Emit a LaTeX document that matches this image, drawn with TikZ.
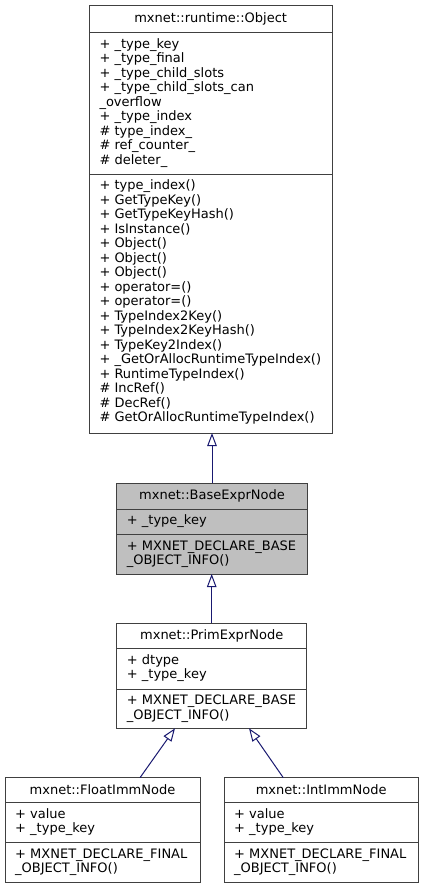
\documentclass[tikz,border=0pt]{standalone}
\usepackage{fontspec}
\setmainfont{DejaVu Sans}
\usetikzlibrary{arrows.meta,calc}
\definecolor{edgeblue}{RGB}{25,25,112}
\definecolor{bord}{HTML}{404040}
\definecolor{basefill}{HTML}{BFBFBF}
\begin{document}
\begin{tikzpicture}[x=1pt,y=-1pt,
  cls/.style={draw=bord, line width=1pt, inner sep=0pt, outer sep=0pt, anchor=north west, rectangle},
  sepline/.style={draw=bord, line width=1pt},
  ttl/.style={font=\fontsize{13}{14.5}\selectfont, inner sep=0pt, anchor=base},
  mem/.style={font=\fontsize{13}{14.5}\selectfont, inner sep=0pt, anchor=north west, align=left},
  inh/.style={draw=edgeblue, line width=1pt, -{Triangle[open, length=13pt, width=9.5pt]}}]
\useasboundingbox (0,0) rectangle (424,889);
\fill[white] (0,0) rectangle (424,889);

% mxnet::runtime::Object
\node[cls, minimum width=242.7pt, minimum height=427.7pt] (obj) at (89.3,5.3) {};
\draw[sepline] (89.3,32.3) -- (332,32.3);
\draw[sepline] (89.3,174) -- (332,174);
\node[ttl] (objt) at (210.7,22.3) {mxnet::runtime::Object};
\node[mem] (obja) at (99.3,37.65) {\strut + \_type\_key\\+ \_type\_final\\+ \_type\_child\_slots\\+ \_type\_child\_slots\_can\\\_overflow\\+ \_type\_index\\\# type\_index\_\\\# ref\_counter\_\\\# deleter\_};
\node[mem] (objm) at (99.3,179.35) {\strut + type\_index()\\+ GetTypeKey()\\+ GetTypeKeyHash()\\+ IsInstance()\\+ Object()\\+ Object()\\+ Object()\\+ operator=()\\+ operator=()\\+ TypeIndex2Key()\\+ TypeIndex2KeyHash()\\+ TypeKey2Index()\\+ \_GetOrAllocRuntimeTypeIndex()\\+ RuntimeTypeIndex()\\\# IncRef()\\\# DecRef()\\\# GetOrAllocRuntimeTypeIndex()};

% mxnet::BaseExprNode
\node[cls, fill=basefill, minimum width=190.6pt, minimum height=90.7pt] (base) at (116.7,483.3) {};
\draw[sepline] (116.7,509) -- (307.3,509);
\draw[sepline] (116.7,534.3) -- (307.3,534.3);
\node[ttl] (baset) at (212,499.8) {mxnet::BaseExprNode};
\node[mem] (basea) at (126.7,514.35) {\strut + \_type\_key};
\node[mem] (basem) at (126.7,539.65) {\strut + MXNET\_DECLARE\_BASE\\\_OBJECT\_INFO()};

% mxnet::PrimExprNode
\node[cls, minimum width=190pt, minimum height=105pt] (prim) at (116.7,623.3) {};
\draw[sepline] (116.7,648.3) -- (306.7,648.3);
\draw[sepline] (116.7,689) -- (306.7,689);
\node[ttl] (primt) at (211.7,639.8) {mxnet::PrimExprNode};
\node[mem] (prima) at (126.7,653.65) {\strut + dtype\\+ \_type\_key};
\node[mem] (primm) at (126.7,694.35) {\strut + MXNET\_DECLARE\_BASE\\\_OBJECT\_INFO()};

% mxnet::FloatImmNode
\node[cls, minimum width=195pt, minimum height=105pt] (flt) at (5,777.7) {};
\draw[sepline] (5,802.7) -- (200,802.7);
\draw[sepline] (5,842.7) -- (200,842.7);
\node[ttl] (fltt) at (102.5,794.2) {mxnet::FloatImmNode};
\node[mem] (flta) at (15,808.05) {\strut + value\\+ \_type\_key};
\node[mem] (fltm) at (15,848.05) {\strut + MXNET\_DECLARE\_FINAL\\\_OBJECT\_INFO()};

% mxnet::IntImmNode
\node[cls, minimum width=194.3pt, minimum height=105pt] (int) at (224,777.7) {};
\draw[sepline] (224,802.7) -- (418.3,802.7);
\draw[sepline] (224,842.7) -- (418.3,842.7);
\node[ttl] (intt) at (321.15,794.2) {mxnet::IntImmNode};
\node[mem] (inta) at (234,808.05) {\strut + value\\+ \_type\_key};
\node[mem] (intm) at (234,848.05) {\strut + MXNET\_DECLARE\_FINAL\\\_OBJECT\_INFO()};

% inheritance
\draw[inh] (base.north) -- (base.north |- obj.south);
\draw[inh] (prim.north) -- (prim.north |- base.south);
\draw[inh] ($(flt.north)+(37.5,0)$) -- ($(prim.south west)+(58.3,0)$);
\draw[inh] ($(int.north)+(-37.85,0)$) -- ($(prim.south east)+(-57.7,0)$);
\end{tikzpicture}
\end{document}
